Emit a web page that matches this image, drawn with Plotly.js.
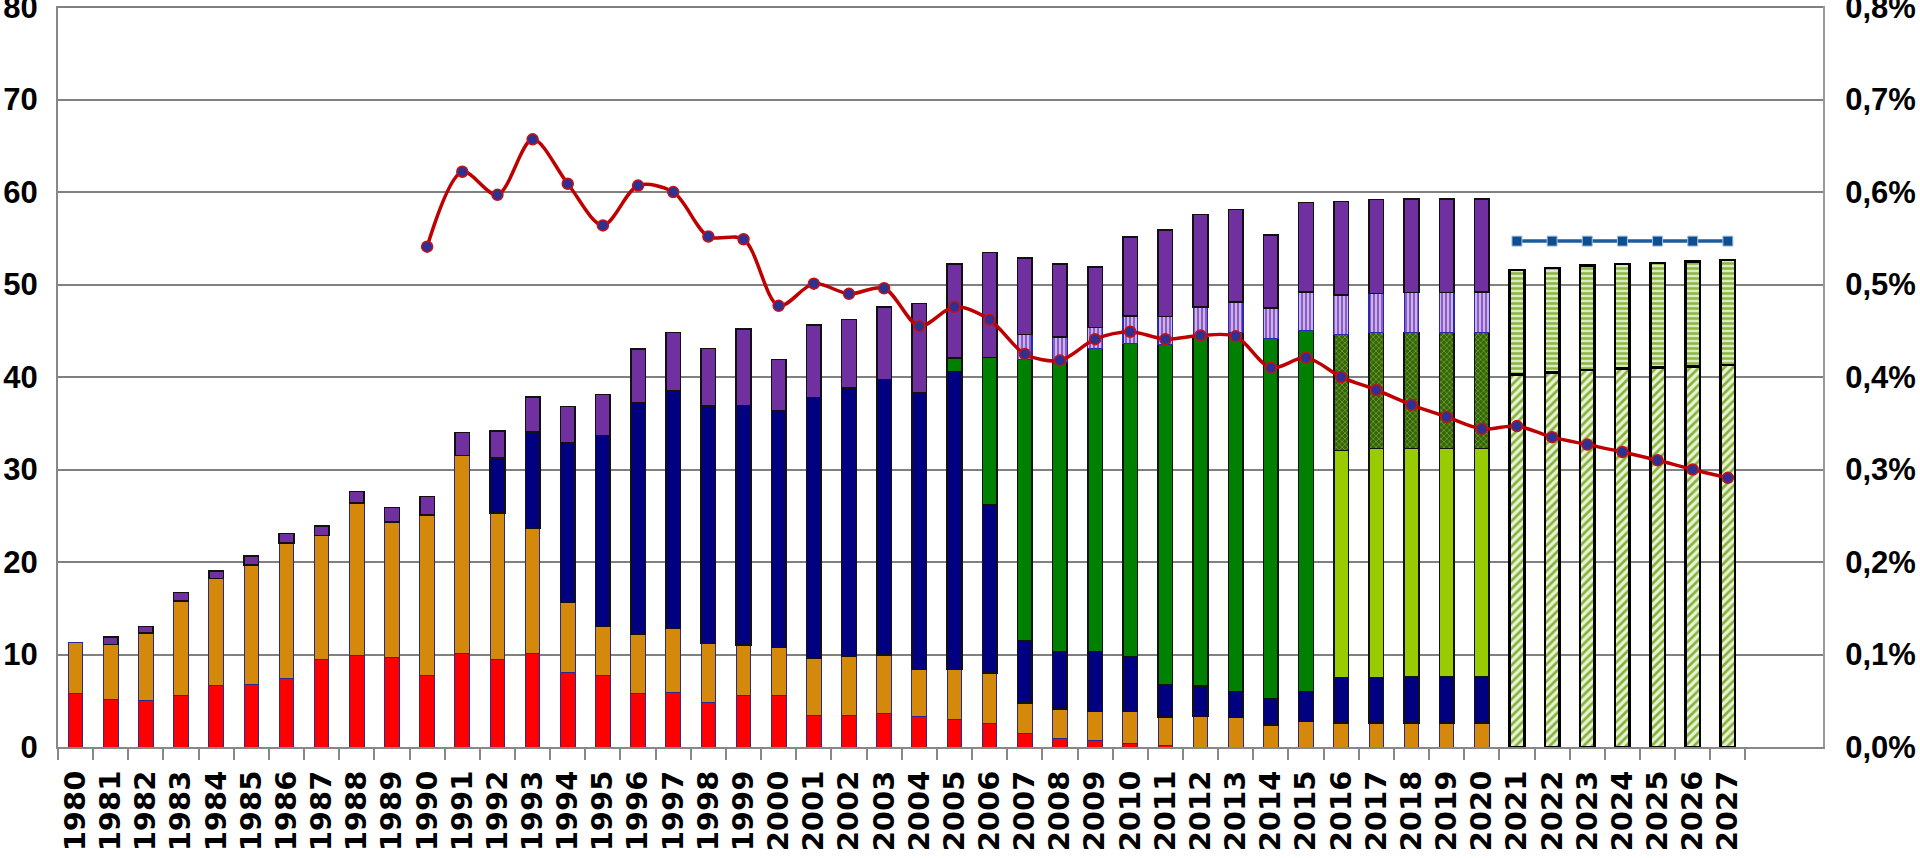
<!DOCTYPE html>
<html>
<head>
<meta charset="utf-8">
<script src="https://cdn.plot.ly/plotly-3.0.1.min.js"></script>
<style>
  html, body { margin: 0; padding: 0; background: #ffffff; }
  #chart { width: 1920px; height: 858px; }
</style>
</head>
<body>
<div id="chart"></div>
<script>
// ---------- DATA ----------
const years = [];
for (let y = 1980; y <= 2027; y++) years.push(String(y));

const seriesRed = [5.74,5.19,5.01,5.56,6.64,6.71,7.43,9.42,9.88,9.63,7.68,10.06,9.45,10.14,8.08,7.76,5.74,5.88,4.83,5.52,5.59,3.39,3.39,3.64,3.3,2.99,2.49,1.41,0.87,0.65,0.43,0.2,null,null,null,null,null,null,null,null,null,null,null,null,null,null,null,null];
const seriesOrange = [5.59,5.92,7.33,10.2,11.58,12.99,14.65,13.45,16.49,14.68,17.39,21.47,15.84,13.53,7.58,5.3,6.45,7.0,6.35,5.52,5.16,6.21,6.46,6.32,5.07,5.38,5.52,3.35,3.24,3.21,3.43,3.05,3.32,3.17,2.38,2.78,2.6,2.6,2.6,2.6,2.6,null,null,null,null,null,null,null];
const seriesNavy = [null,null,null,null,null,null,null,null,null,null,null,null,5.95,10.38,17.24,20.6,25.04,25.68,25.69,25.9,25.58,28.17,28.97,29.76,29.91,32.21,18.18,6.75,6.21,6.46,5.95,3.46,3.28,2.82,2.81,3.21,4.9,4.9,4.98,4.98,4.98,null,null,null,null,null,null,null];
const seriesGreen = [null,null,null,null,null,null,null,null,null,null,null,null,null,null,null,null,null,null,null,null,null,null,null,null,null,1.48,15.91,30.41,31.31,32.79,33.8,36.8,37.66,38.82,38.97,39.03,null,null,null,null,null,null,null,null,null,null,null,null];
const seriesLightGreen = [null,null,null,null,null,null,null,null,null,null,null,null,null,null,null,null,null,null,null,null,null,null,null,null,null,null,null,null,null,null,null,null,null,null,null,null,24.57,24.75,24.71,24.71,24.71,null,null,null,null,null,null,null];
const seriesDarkGreenDots = [null,null,null,null,null,null,null,null,null,null,null,null,null,null,null,null,null,null,null,null,null,null,null,null,null,null,null,null,null,null,null,null,null,null,null,null,12.55,12.55,12.52,12.52,12.52,null,null,null,null,null,null,null];
const seriesLightPurple = [null,null,null,null,null,null,null,null,null,null,null,null,null,null,null,null,null,null,null,null,null,null,null,null,null,null,null,2.7,2.71,2.24,3.0,3.03,3.29,3.32,3.32,4.19,4.26,4.26,4.32,4.32,4.4,null,null,null,null,null,null,null];
const seriesPurple = [null,0.79,0.68,0.94,0.83,0.94,1.01,1.05,1.23,1.56,1.99,2.47,2.92,3.79,3.9,4.47,5.81,6.28,6.24,8.23,5.55,7.86,7.39,7.83,9.66,10.14,11.36,8.27,7.86,6.56,8.55,9.38,10.03,9.99,7.86,9.66,10.1,10.14,10.14,10.14,10.06,null,null,null,null,null,null,null];
const seriesHatched = [null,null,null,null,null,null,null,null,null,null,null,null,null,null,null,null,null,null,null,null,null,null,null,null,null,null,null,null,null,null,null,null,null,null,null,null,null,null,null,null,null,40.3,40.48,40.76,40.91,41.02,41.16,41.31];
const seriesStriped = [null,null,null,null,null,null,null,null,null,null,null,null,null,null,null,null,null,null,null,null,null,null,null,null,null,null,null,null,null,null,null,null,null,null,null,null,null,null,null,null,null,11.29,11.32,11.3,11.29,11.32,11.33,11.36];

const shareYears = years.slice(10); // 1990..2027
const sharePct = [0.541,0.622,0.597,0.657,0.609,0.564,0.607,0.600,0.552,0.549,0.477,0.501,0.490,0.496,0.455,0.476,0.462,0.425,0.418,0.441,0.449,0.441,0.445,0.444,0.410,0.421,0.400,0.386,0.370,0.357,0.344,0.347,0.335,0.327,0.319,0.310,0.300,0.291];

const targetYears = years.slice(41); // 2021..2027
const targetPct = [0.547,0.547,0.547,0.547,0.547,0.547,0.547];

// ---------- TRACES ----------
function bar(vals, color, line, pattern) {
  const t = { type: 'bar', x: years, y: vals, hoverinfo: 'skip',
    marker: { color: color, line: line } };
  if (pattern) t.marker.pattern = pattern;
  return t;
}
const thinBlue = { color: '#2a2a8a', width: 1 };
const black = { color: '#111111', width: 1.5 };
const thick = { color: '#000000', width: 2.5 };

const traces = [
  bar(seriesRed, '#FF0000', thinBlue),
  bar(seriesOrange, '#D4890A', thinBlue),
  bar(seriesNavy, '#000080', black),
  bar(seriesGreen, '#008000', black),
  bar(seriesLightGreen, '#99CC00', black),
  bar(seriesDarkGreenDots, '#3A6B10', black, { shape: 'x', bgcolor: '#336600', fgcolor: '#7FA656', size: 4, solidity: 0.3 }),
  bar(seriesLightPurple, '#8E62C8', { color: '#2a2ab0', width: 1.2 }, { shape: '|', bgcolor: '#8A5CC4', fgcolor: '#D2BDEE', size: 4, solidity: 0.45 }),
  bar(seriesPurple, '#7030A0', black),
  bar(seriesHatched, '#CFE3A6', thick, { shape: '/', bgcolor: '#EAF3D6', fgcolor: '#86B23A', size: 6, solidity: 0.45 }),
  bar(seriesStriped, '#C9DEA0', thick, { shape: '-', bgcolor: '#DCEBC0', fgcolor: '#8BB640', size: 5, solidity: 0.5 }),
  {
    type: 'scatter', mode: 'lines+markers', x: shareYears, y: sharePct, yaxis: 'y2',
    hoverinfo: 'skip',
    line: { color: '#BF0000', width: 3.5, shape: 'spline', smoothing: 0.9 },
    marker: { symbol: 'circle', size: 11, color: '#2E3192', line: { color: '#CC1010', width: 1.5 } }
  },
  {
    type: 'scatter', mode: 'lines+markers', x: targetYears, y: targetPct, yaxis: 'y2',
    hoverinfo: 'skip',
    line: { color: '#1B5C9E', width: 3.5 },
    marker: { symbol: 'square', size: 10, color: '#0D4E90', line: { color: '#A9C3DC', width: 1 } }
  }
];

const tickFontY = { family: 'Liberation Sans, Arial, sans-serif', size: 31, weight: 'bold', color: '#000000' };

// ---------- LAYOUT ----------
const layout = {
  width: 1920, height: 858,
  margin: { l: 58, r: 97, t: 6, b: 111, pad: 0 },
  paper_bgcolor: '#ffffff', plot_bgcolor: '#ffffff',
  barmode: 'stack', bargap: 0.584,
  showlegend: false,
  separators: ',.',
  xaxis: {
    type: 'category', categoryorder: 'array', categoryarray: years,
    tickmode: 'array', tickvals: years, ticktext: years,
    tickson: 'boundaries', ticks: 'outside', ticklen: 11, tickwidth: 2, tickcolor: '#888888',
    showline: true, linecolor: '#888888', linewidth: 2,
    showgrid: false, zeroline: false,
    tickangle: -90, ticklabelstandoff: 10,
    tickfont: { family: 'DejaVu Sans, sans-serif', size: 29, weight: 'bold', color: '#000000' },
    fixedrange: true
  },
  yaxis: {
    range: [0, 80.12], tickmode: 'linear', tick0: 0, dtick: 10, ticks: '',
    showline: true, linecolor: '#888888', linewidth: 2,
    showgrid: true, gridcolor: '#808080', gridwidth: 2, zeroline: false,
    ticklabelstandoff: 12, ticklabeloverflow: 'allow',
    tickfont: tickFontY,
    fixedrange: true
  },
  yaxis2: {
    overlaying: 'y', side: 'right', range: [0, 0.8012], tickmode: 'linear', tick0: 0, dtick: 0.1,
    tickformat: '.1f', ticksuffix: '%', ticks: '',
    showline: true, linecolor: '#999999', linewidth: 2,
    showgrid: false, zeroline: false,
    ticklabelstandoff: 14, ticklabeloverflow: 'allow',
    tickfont: tickFontY,
    fixedrange: true
  }
};

Plotly.newPlot('chart', traces, layout, { displayModeBar: false, staticPlot: true });
</script>
</body>
</html>
